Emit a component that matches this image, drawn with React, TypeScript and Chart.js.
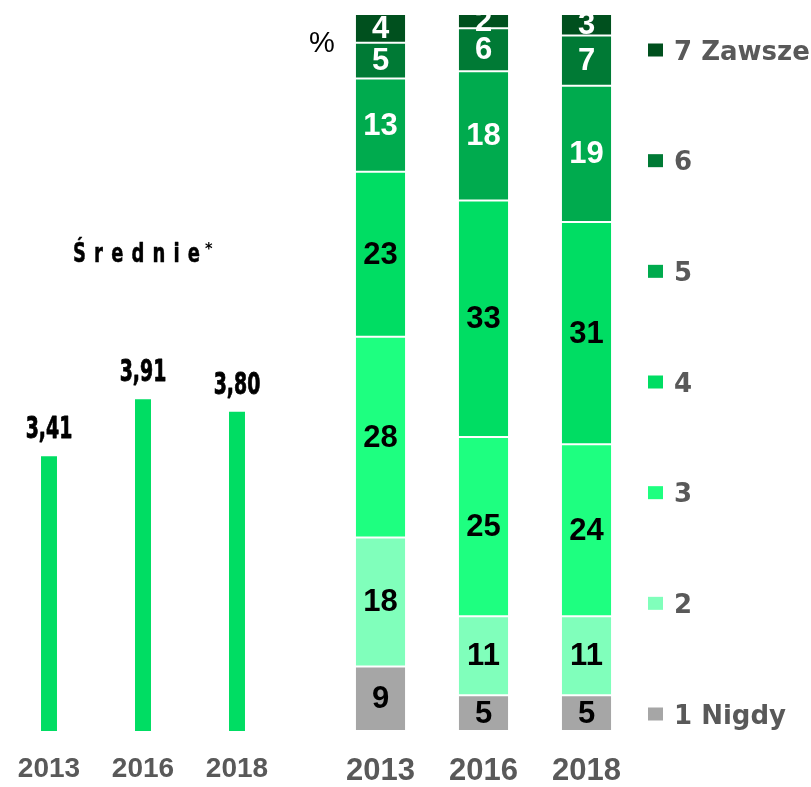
import React, { useEffect, useRef } from 'react';
import { Chart, registerables } from 'chart.js';

Chart.register(...registerables);

const years = ['2013', '2016', '2018'];
const means = [3.41, 3.91, 3.8];
const nigdy = [9, 5, 5];
const val2 = [18, 11, 11];
const val3 = [28, 25, 24];
const val4 = [23, 33, 31];
const val5 = [13, 18, 19];
const val6 = [5, 6, 7];
const zawsze = [4, 2, 3];
const seriesNames = ['1 Nigdy', '2', '3', '4', '5', '6', '7 Zawsze'];
const seriesColors = ['#A6A6A6', '#80FFBB', '#1EFF80', '#00DD63', '#00AB4E', '#007A35', '#00501E'];
const labelColors = ['#000000', '#000000', '#000000', '#000000', '#FFFFFF', '#FFFFFF', '#FFFFFF'];
const meanColor = '#00DD63';
const titleText = 'Średnie';
const titleMark = '*';
const unitText = '%';

const seriesValues = [nigdy, val2, val3, val4, val5, val6, zawsze];

const COND = '"Liberation Sans Narrow", "DejaVu Sans Condensed", sans-serif';

function heavyText(ctx: CanvasRenderingContext2D, text: string, x: number, y: number, sx: number, stroke: number) {
  ctx.save();
  ctx.translate(x, y);
  ctx.scale(sx, 1);
  ctx.fillText(text, 0, 0);
  if (stroke > 0) {
    ctx.lineWidth = stroke;
    ctx.lineJoin = 'round';
    ctx.strokeStyle = ctx.fillStyle;
    ctx.strokeText(text, 0, 0);
  }
  ctx.restore();
}

function MeansChart() {
  const ref = useRef<HTMLCanvasElement>(null);
  useEffect(() => {
    if (!ref.current) return;
    const labelsPlugin = {
      id: 'meanLabels',
      afterDatasetsDraw(chart: any) {
        const ctx = chart.ctx as CanvasRenderingContext2D;
        const meta = chart.getDatasetMeta(0);
        ctx.save();
        ctx.font = `bold 30px ${COND}`;
        ctx.fillStyle = '#000';
        ctx.textAlign = 'center';
        ctx.textBaseline = 'alphabetic';
        meta.data.forEach((el: any, i: number) => {
          heavyText(ctx, means[i].toFixed(2).replace('.', ','), el.x, el.y - 18, 0.7, 0.8);
        });
        // title
        ctx.textAlign = 'left';
        ctx.font = `bold 27px ${COND}`;
        const sx = 0.74;
        const w0 = ctx.measureText(titleText).width * sx;
        const spacing = Math.max(0, (127 - w0) / (titleText.length - 1));
        const anyCtx = ctx as any;
        if ('letterSpacing' in anyCtx) {
          anyCtx.letterSpacing = `${spacing / sx}px`;
          heavyText(ctx, titleText, 73, 262, sx, 0.5);
          anyCtx.letterSpacing = '0px';
        } else {
          heavyText(ctx, titleText, 73, 262, sx, 0.5);
        }
        ctx.font = `bold 16px ${COND}`;
        ctx.fillText(titleMark, 205, 254);
        ctx.restore();
      },
    };
    const chart = new Chart(ref.current, {
      type: 'bar',
      data: {
        labels: years,
        datasets: [
          {
            label: 'Średnie',
            data: means,
            backgroundColor: meanColor,
            barPercentage: 0.17,
            categoryPercentage: 1,
          },
        ],
      },
      options: {
        responsive: false,
        animation: false,
        devicePixelRatio: 1,
        layout: { padding: { top: 47, left: 2, right: 16, bottom: 0 } },
        plugins: { legend: { display: false }, tooltip: { enabled: false } },
        scales: {
          x: {
            grid: { display: false, drawTicks: false },
            border: { display: false },
            afterFit(scale: any) {
              scale.paddingLeft = 0;
              scale.paddingRight = 0;
              scale.height = 56;
            },
            ticks: {
              color: '#595959',
              padding: 24,
              font: { family: '"Liberation Sans", sans-serif', size: 28, weight: 'bold', lineHeight: 1 },
            },
          },
          y: { display: false, min: 1, max: 7 },
        },
      },
      plugins: [labelsPlugin],
    } as any);
    return () => chart.destroy();
  }, []);
  return <canvas ref={ref} width={300} height={787} style={{ position: 'absolute', left: 0, top: 0, display: 'block' }} />;
}

function StackChart() {
  const ref = useRef<HTMLCanvasElement>(null);
  useEffect(() => {
    if (!ref.current) return;
    const segPlugin = {
      id: 'segLabels',
      afterDatasetsDraw(chart: any) {
        const ctx = chart.ctx as CanvasRenderingContext2D;
        const ca = chart.chartArea;
        ctx.save();
        ctx.beginPath();
        ctx.rect(ca.left, ca.top, ca.right - ca.left, ca.bottom - ca.top);
        ctx.clip();
        ctx.font = 'bold 31px "Liberation Sans", sans-serif';
        ctx.textAlign = 'center';
        ctx.textBaseline = 'middle';
        chart.data.datasets.forEach((ds: any, di: number) => {
          const meta = chart.getDatasetMeta(di);
          ctx.fillStyle = labelColors[di];
          meta.data.forEach((el: any, i: number) => {
            const v = ds.data[i];
            const cy = (el.y + el.base) / 2;
            ctx.fillText(String(v), el.x, cy + 1);
          });
        });
        ctx.restore();
      },
      afterDraw(chart: any) {
        const ctx = chart.ctx as CanvasRenderingContext2D;
        const ca = chart.chartArea;
        ctx.save();
        // unit
        ctx.font = '29px "Liberation Sans", sans-serif';
        ctx.fillStyle = '#000';
        ctx.textAlign = 'left';
        ctx.textBaseline = 'alphabetic';
        ctx.fillText(unitText, 9, 52);
        // legend
        const top = ca.top + 38;
        const bottom = ca.bottom - 15;
        const n = seriesNames.length;
        const step = (bottom - top) / (n - 1);
        ctx.font = 'bold 26px "DejaVu Sans", sans-serif';
        ctx.textBaseline = 'middle';
        const boxX = ca.right + 10;
        for (let k = 0; k < n; k++) {
          const idx = n - 1 - k;
          const y = top + k * step;
          ctx.fillStyle = seriesColors[idx];
          ctx.fillRect(boxX, y - 8.5, 15, 13);
          ctx.fillStyle = '#595959';
          ctx.fillText(seriesNames[idx], boxX + 26, y + 1);
        }
        ctx.restore();
      },
    };
    const chart = new Chart(ref.current, {
      type: 'bar',
      data: {
        labels: years,
        datasets: seriesValues.map((d, i) => ({
          label: seriesNames[i],
          data: d,
          backgroundColor: seriesColors[i],
          borderColor: '#FFFFFF',
          borderWidth: { top: 1, bottom: 1, left: 0, right: 0 },
          borderSkipped: false,
          barPercentage: 0.48,
          categoryPercentage: 1,
        })),
      },
      options: {
        responsive: false,
        animation: false,
        devicePixelRatio: 1,
        layout: { padding: { top: 14, left: 29, right: 173, bottom: 0 } },
        plugins: { legend: { display: false }, tooltip: { enabled: false } },
        scales: {
          x: {
            stacked: true,
            grid: { display: false, drawTicks: false },
            border: { display: false },
            afterFit(scale: any) {
              scale.paddingLeft = 0;
              scale.paddingRight = 0;
              scale.height = 56;
            },
            ticks: {
              color: '#595959',
              padding: 25,
              font: { family: '"Liberation Sans", sans-serif', size: 31, weight: 'bold', lineHeight: 1 },
            },
          },
          y: { display: false, stacked: true, min: 0, max: 100 },
        },
      },
      plugins: [segPlugin],
    } as any);
    return () => chart.destroy();
  }, []);
  return <canvas ref={ref} width={511} height={787} style={{ position: 'absolute', left: 300, top: 0, display: 'block' }} />;
}

export default function App() {
  return (
    <div style={{ position: 'fixed', left: 0, top: 0, width: 811, height: 787, background: '#fff', overflow: 'hidden' }}>
      <MeansChart />
      <StackChart />
    </div>
  );
}
